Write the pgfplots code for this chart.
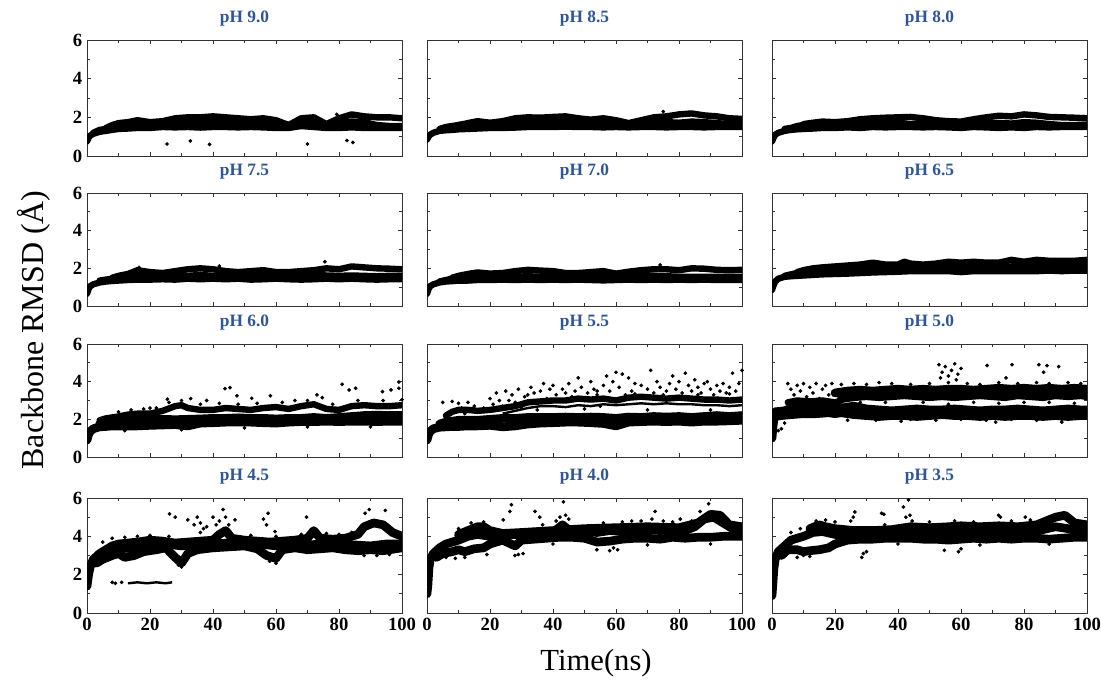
\documentclass[border=0pt]{standalone}
\usepackage{fontspec}
\setmainfont{Liberation Serif}
\usepackage{pgfplots}
\pgfplotsset{compat=1.18}
\definecolor{titleblue}{HTML}{2F5597}

\pgfplotsset{
  panel/.style={
    scale only axis, width=236.25pt, anchor=south west,
    xmin=0, xmax=100, ymin=0, ymax=6,
    xtick={0,20,...,100}, minor xtick={10,30,...,90},
    ytick={0,2,4,6}, minor ytick={1,3,5},
    tick align=inside, major tick length=3pt, minor tick length=2pt,
    axis line style={black!80, line width=0.6pt},
    tick style={black!80, line width=0.5pt},
    tick label style={font=\fontsize{14}{14}\selectfont\bfseries},
    /pgf/number format/assume math mode=true,
    title style={font=\fontsize{13}{13}\selectfont\bfseries, text=titleblue, at={(0.5,1)}, anchor=south, yshift=0.5pt},
  },
  band/.style={black, line width=4.8pt, line join=round, line cap=round},
  wband/.style={black, line width=6.5pt, line join=round, line cap=round},
  thin/.style={black, line width=1.8pt, line join=round},
  dots/.style={only marks, mark=*, mark size=1.2pt, black},
}

\begin{document}
\begin{tikzpicture}
\useasboundingbox (0,0) rectangle (826.5pt,513pt);

% ---------------- row 1 ----------------
\begin{axis}[panel, at={(65.25pt,396pt)}, height=87pt, title={pH 9.0}, xticklabel=\empty]
\addplot[band] coordinates {(0,0.75) (0.5,0.95) (1,1.05) (2,1.15) (4,1.25) (6,1.3) (8,1.35) (10,1.4) (13,1.42) (16,1.45) (20,1.45) (24,1.5) (28,1.48) (32,1.5) (36,1.47) (40,1.5) (44,1.5) (48,1.48) (52,1.5) (56,1.48) (60,1.45) (64,1.45) (68,1.55) (72,1.5) (76,1.45) (80,1.45) (84,1.48) (88,1.45) (92,1.45) (96,1.45) (100,1.45)};
\addplot[band] coordinates {(2,1.2) (4,1.35) (6,1.4) (8,1.5) (10,1.55) (13,1.6) (16,1.65) (20,1.7) (24,1.65) (28,1.7) (32,1.72) (36,1.7) (40,1.75) (44,1.72) (48,1.78) (52,1.8) (56,1.75) (60,1.72) (64,1.6) (68,1.7) (72,1.75) (76,1.55) (80,1.7) (84,1.78) (88,1.75) (92,1.6) (96,1.55) (100,1.55)};
\addplot[band] coordinates {(6,1.45) (8,1.6) (10,1.7) (13,1.75) (16,1.85) (20,1.75) (24,1.8) (28,1.95) (32,2.0) (36,2.0) (40,2.05) (44,2.0) (48,1.95) (52,1.9) (56,1.95) (60,1.85) (64,1.6) (68,1.95) (72,2.0) (76,1.65) (80,1.95) (84,2.15) (88,2.05) (92,2.0) (96,2.0) (100,1.95)};
\addplot[dots] coordinates {(25.4,0.62) (32.8,0.78) (38.9,0.6) (70,0.62) (82.5,0.8) (84.4,0.7) (79.3,2.15)};
\end{axis}

\begin{axis}[panel, at={(320.25pt,396pt)}, height=87pt, title={pH 8.5}, xticklabel=\empty, yticklabel=\empty]
\addplot[band] coordinates {(0,0.85) (0.5,1.0) (1,1.1) (2,1.2) (4,1.3) (6,1.33) (8,1.35) (10,1.38) (13,1.4) (16,1.42) (20,1.45) (24,1.45) (28,1.47) (32,1.5) (36,1.5) (40,1.5) (44,1.52) (48,1.5) (52,1.5) (56,1.48) (60,1.5) (64,1.48) (68,1.5) (72,1.5) (76,1.48) (80,1.5) (84,1.5) (88,1.48) (92,1.5) (96,1.5) (100,1.5)};
\addplot[band] coordinates {(4,1.4) (6,1.5) (8,1.55) (10,1.6) (13,1.65) (16,1.7) (20,1.65) (24,1.7) (28,1.72) (32,1.7) (36,1.75) (40,1.72) (44,1.75) (48,1.7) (52,1.68) (56,1.65) (60,1.6) (64,1.65) (68,1.7) (72,1.72) (76,1.75) (80,1.72) (84,1.78) (88,1.75) (92,1.7) (96,1.65) (100,1.62)};
\addplot[band] coordinates {(10,1.6) (13,1.7) (16,1.8) (20,1.72) (24,1.8) (28,1.95) (32,2.0) (36,1.98) (40,2.02) (44,2.05) (48,1.95) (52,1.88) (56,1.95) (60,1.85) (64,1.7) (68,1.85) (72,2.0) (76,2.05) (80,2.15) (84,2.2) (88,2.1) (92,2.05) (96,1.95) (100,1.92)};
\addplot[dots] coordinates {(75,2.3)};
\end{axis}

\begin{axis}[panel, at={(579pt,396pt)}, height=87pt, title={pH 8.0}, xticklabel=\empty, yticklabel=\empty]
\addplot[band] coordinates {(0,0.75) (0.5,0.95) (1,1.1) (2,1.2) (4,1.3) (6,1.35) (8,1.38) (10,1.4) (13,1.42) (16,1.45) (20,1.45) (24,1.48) (28,1.45) (32,1.5) (36,1.48) (40,1.5) (44,1.5) (48,1.48) (52,1.5) (56,1.48) (60,1.45) (64,1.5) (68,1.48) (72,1.45) (76,1.48) (80,1.45) (84,1.5) (88,1.48) (92,1.5) (96,1.5) (100,1.5)};
\addplot[band] coordinates {(4,1.4) (6,1.45) (8,1.55) (10,1.6) (13,1.65) (16,1.7) (20,1.7) (24,1.72) (28,1.75) (32,1.72) (36,1.75) (40,1.72) (44,1.65) (48,1.7) (52,1.72) (56,1.68) (60,1.65) (64,1.7) (68,1.72) (72,1.7) (76,1.68) (80,1.75) (84,1.72) (88,1.65) (92,1.6) (96,1.6) (100,1.62)};
\addplot[band] coordinates {(10,1.65) (13,1.72) (16,1.78) (20,1.75) (24,1.8) (28,1.9) (32,1.95) (36,1.98) (40,2.0) (44,2.02) (48,1.95) (52,1.85) (56,1.8) (60,1.78) (64,1.9) (68,2.0) (72,2.08) (76,2.05) (80,2.15) (84,2.1) (88,2.02) (92,2.0) (96,1.98) (100,1.95)};
\end{axis}

% ---------------- row 2 ----------------
\begin{axis}[panel, at={(65.25pt,283.5pt)}, height=84.75pt, title={pH 7.5}, xticklabel=\empty]
\addplot[band] coordinates {(0,0.65) (0.5,0.9) (1,1.05) (2,1.15) (4,1.25) (6,1.3) (8,1.33) (10,1.35) (13,1.38) (16,1.4) (20,1.4) (24,1.42) (28,1.4) (32,1.45) (36,1.42) (40,1.45) (44,1.42) (48,1.45) (52,1.4) (56,1.42) (60,1.45) (64,1.42) (68,1.4) (72,1.42) (76,1.45) (80,1.42) (84,1.45) (88,1.42) (92,1.4) (96,1.42) (100,1.42)};
\addplot[band] coordinates {(4,1.35) (6,1.4) (8,1.45) (10,1.5) (13,1.55) (16,1.6) (20,1.6) (24,1.58) (28,1.62) (32,1.6) (36,1.65) (40,1.6) (44,1.58) (48,1.6) (52,1.55) (56,1.6) (60,1.58) (64,1.62) (68,1.6) (72,1.65) (76,1.62) (80,1.6) (84,1.62) (88,1.6) (92,1.58) (96,1.6) (100,1.6)};
\addplot[band] coordinates {(8,1.5) (10,1.6) (13,1.7) (16,1.9) (20,1.8) (24,1.75) (28,1.85) (32,1.95) (36,2.0) (40,1.95) (44,1.85) (48,1.8) (52,1.85) (56,1.9) (60,1.8) (64,1.8) (68,1.85) (72,1.9) (76,2.0) (80,1.95) (84,2.1) (88,2.05) (92,2.0) (96,1.98) (100,1.95)};
\addplot[dots] coordinates {(75.5,2.35) (42,2.12) (16.5,2.05)};
\end{axis}

\begin{axis}[panel, at={(320.25pt,283.5pt)}, height=84.75pt, title={pH 7.0}, xticklabel=\empty, yticklabel=\empty]
\addplot[band] coordinates {(0,0.65) (0.5,0.9) (1,1.05) (2,1.15) (4,1.25) (6,1.3) (8,1.32) (10,1.35) (13,1.35) (16,1.38) (20,1.38) (24,1.4) (28,1.38) (32,1.4) (36,1.38) (40,1.4) (44,1.38) (48,1.4) (52,1.38) (56,1.36) (60,1.38) (64,1.4) (68,1.38) (72,1.4) (76,1.38) (80,1.4) (84,1.38) (88,1.4) (92,1.38) (96,1.38) (100,1.38)};
\addplot[band] coordinates {(4,1.3) (6,1.38) (8,1.45) (10,1.5) (13,1.55) (16,1.55) (20,1.55) (24,1.52) (28,1.55) (32,1.58) (36,1.55) (40,1.58) (44,1.55) (48,1.55) (52,1.58) (56,1.55) (60,1.52) (64,1.55) (68,1.58) (72,1.6) (76,1.58) (80,1.55) (84,1.55) (88,1.55) (92,1.55) (96,1.55) (100,1.55)};
\addplot[band] coordinates {(8,1.5) (10,1.6) (13,1.7) (16,1.78) (20,1.72) (24,1.75) (28,1.85) (32,1.92) (36,1.88) (40,1.85) (44,1.75) (48,1.75) (52,1.8) (56,1.85) (60,1.72) (64,1.82) (68,1.9) (72,1.95) (76,1.95) (80,1.9) (84,2.0) (88,1.98) (92,1.92) (96,1.9) (100,1.92)};
\addplot[dots] coordinates {(74,2.18)};
\end{axis}

\begin{axis}[panel, at={(579pt,283.5pt)}, height=84.75pt, title={pH 6.5}, xticklabel=\empty, yticklabel=\empty]
\addplot[band] coordinates {(0,0.85) (0.5,1.1) (1,1.3) (2,1.45) (4,1.55) (6,1.58) (8,1.6) (10,1.62) (13,1.65) (16,1.68) (20,1.7) (24,1.72) (28,1.75) (32,1.78) (36,1.8) (40,1.82) (44,1.85) (48,1.85) (52,1.85) (56,1.85) (60,1.8) (64,1.85) (68,1.85) (72,1.85) (76,1.85) (80,1.85) (84,1.85) (88,1.88) (92,1.85) (96,1.88) (100,1.88)};
\addplot[band] coordinates {(4,1.6) (6,1.68) (8,1.75) (10,1.8) (13,1.85) (16,1.9) (20,1.92) (24,1.95) (28,1.98) (32,2.0) (36,2.02) (40,2.05) (44,2.05) (48,2.02) (52,2.05) (56,2.08) (60,2.05) (64,2.08) (68,2.1) (72,2.08) (76,2.1) (80,2.1) (84,2.1) (88,2.1) (92,2.12) (96,2.1) (100,2.1)};
\addplot[band] coordinates {(8,1.8) (10,1.9) (13,2.0) (16,2.05) (20,2.1) (24,2.15) (28,2.2) (32,2.3) (36,2.2) (40,2.2) (42,2.35) (44,2.25) (48,2.2) (52,2.25) (56,2.35) (60,2.3) (64,2.35) (68,2.3) (72,2.3) (76,2.45) (80,2.35) (84,2.45) (88,2.4) (92,2.4) (96,2.4) (100,2.45)};
\end{axis}

% ---------------- row 3 ----------------
\begin{axis}[panel, at={(65.25pt,170.25pt)}, height=84.75pt, title={pH 6.0}, xticklabel=\empty]
\addplot[wband] coordinates {(0,0.9) (0.5,1.2) (1,1.35) (2,1.5) (4,1.6) (6,1.62) (8,1.65) (10,1.65) (13,1.65) (16,1.65) (20,1.68) (24,1.7) (28,1.72) (32,1.65) (36,1.8) (40,1.82) (44,1.85) (48,1.85) (52,1.85) (56,1.82) (60,1.8) (64,1.85) (68,1.88) (72,1.88) (76,1.9) (80,1.88) (84,1.9) (88,1.9) (92,1.88) (96,1.9) (100,1.9)};
\addplot[wband] coordinates {(4,1.75) (6,1.85) (8,1.9) (10,1.95) (13,1.95) (16,2.0) (20,2.0) (24,2.0) (28,1.98) (32,2.0) (36,2.02) (40,2.05) (44,2.05) (48,2.08) (52,2.05) (56,2.05) (60,2.02) (64,2.05) (68,2.05) (72,2.1) (76,2.05) (80,2.1) (84,2.15) (88,2.2) (92,2.22) (96,2.2) (100,2.2)};
\addplot[band] coordinates {(4,1.95) (6,2.05) (8,2.1) (10,2.15) (13,2.25) (16,2.3) (20,2.3) (24,2.45) (28,2.7) (30,2.75) (32,2.6) (34,2.55) (36,2.5) (40,2.5) (44,2.6) (48,2.55) (52,2.5) (56,2.6) (60,2.65) (64,2.55) (68,2.7) (72,2.8) (76,2.55) (80,2.5) (84,2.7) (88,2.75) (92,2.7) (96,2.7) (100,2.75)};
\addplot[dots] coordinates {(25.5,3.07) (32.9,3.1) (43.8,3.63) (45.4,3.68) (47.6,3.25) (52.3,3.12) (58.2,3.25) (74.7,3.15) (81,3.86) (83.2,3.56) (85.3,3.65) (93.8,3.47) (96.5,3.56) (99,3.98) (99,3.65) (20,2.6) (38,3.0) (66,3.0) (73,3.3)
 (10,2.4) (14,2.5) (18,2.55) (22,2.6) (26,2.9) (30,3.0) (36,2.8) (42,2.85) (48,2.8) (54,2.85) (62,2.9) (70,3.0) (78,2.8) (86,3.0) (94,3.0) (100,3.05) (12,1.4) (30,1.45) (50,1.55) (70,1.6) (90,1.6)};
\end{axis}

\begin{axis}[panel, at={(320.25pt,170.25pt)}, height=84.75pt, title={pH 5.5}, xticklabel=\empty, yticklabel=\empty]
\addplot[wband] coordinates {(0,0.9) (0.5,1.2) (1,1.35) (2,1.5) (4,1.58) (6,1.6) (8,1.62) (10,1.62) (13,1.65) (16,1.65) (20,1.68) (24,1.6) (28,1.65) (32,1.75) (36,1.8) (40,1.82) (44,1.85) (48,1.85) (52,1.82) (56,1.78) (60,1.65) (64,1.85) (68,1.88) (72,1.9) (76,1.88) (80,1.9) (84,1.85) (88,1.9) (92,1.9) (96,1.92) (100,1.95)};
\addplot[wband] coordinates {(4,1.75) (6,1.85) (8,1.9) (10,1.95) (13,1.95) (16,1.95) (20,2.0) (24,2.05) (28,2.05) (32,2.1) (36,2.1) (40,2.1) (44,2.12) (48,2.1) (52,2.12) (56,2.1) (60,2.05) (64,2.12) (68,2.1) (72,2.15) (76,2.12) (80,2.15) (84,2.1) (88,2.15) (92,2.2) (96,2.15) (100,2.2)};
\addplot[band] coordinates {(6,2.2) (8,2.4) (10,2.5) (13,2.5) (16,2.45) (20,2.5) (24,2.6) (28,2.7) (32,2.9) (36,2.95) (40,3.0) (44,3.0) (48,3.1) (52,3.05) (56,3.1) (60,3.0) (64,3.15) (68,3.2) (72,3.15) (76,3.1) (80,3.15) (84,3.1) (88,3.05) (92,3.05) (96,3.0) (100,3.05)};
\addplot[thin] coordinates {(24,2.3) (28,2.45) (32,2.6) (36,2.7) (40,2.7) (44,2.65) (48,2.75) (52,2.7) (56,2.8) (60,2.75) (64,2.8) (68,2.85) (72,2.8) (76,2.85) (80,2.8) (84,2.8) (88,2.75) (92,2.75) (96,2.7) (100,2.75)};
\addplot[dots] coordinates {(7,2.3) (9,2.5) (11,2.6) (12,2.3) (14,2.55) (16,2.45) (18,2.6) (19,2.5) (5,2.9) (8,2.95) (10,2.85) (13,2.9) (15,2.7)
 (20,3.1) (21,2.8) (22,3.4) (23,3.0) (24,2.7) (25,3.5) (26,3.0) (27,3.3) (28,2.9) (29,3.6) (30,2.6) (31,3.2) (33,3.7) (34,3.4) (35,2.9) (36,3.5) (37,3.9) (38,3.1) (39,3.6)
 (40,3.8) (41,3.3) (42,3.0) (43,3.6) (45,3.9) (46,3.2) (47,3.5) (48,4.2) (49,3.7) (50,3.0) (51,3.4) (52,4.0) (53,3.6) (54,3.3) (55,2.7) (56,3.8) (57,4.3) (58,3.5) (59,4.0) (60,4.5) (61,3.7) (62,4.4) (63,3.3)
 (64,4.2) (65,3.5) (66,3.9) (67,3.2) (68,3.8) (70,3.6) (71,4.6) (72,3.4) (73,4.0) (74,3.7) (76,3.5) (77,3.9) (78,4.3) (79,3.6) (80,4.0) (81,3.4) (82,4.45) (83,3.8) (84,3.5) (85,4.1) (86,3.7) (87,3.4) (88,3.9) (89,4.0) (90,3.6) (91,3.3) (92,3.8) (93,3.5) (94,3.9) (95,3.4) (96,3.7) (97,4.45) (98,3.5) (99,3.9) (100,4.6)
 (32,3.3) (44,3.4) (54,3.5) (66,3.35) (75,3.3) (86,3.3) (96,3.35) (35,2.5) (50,2.55) (70,2.5) (90,2.5)};
\end{axis}

\begin{axis}[panel, at={(579pt,170.25pt)}, height=84.75pt, title={pH 5.0}, xticklabel=\empty, yticklabel=\empty]
\addplot[wband] coordinates {(0,1.0) (0.3,1.6) (0.6,2.0) (1,2.15) (3,2.2) (6,2.25) (10,2.3) (14,2.3) (18,2.35) (20,2.3) (22,2.35) (26,2.25) (30,2.2) (34,2.15) (38,2.2) (42,2.2) (46,2.15) (50,2.2) (54,2.25) (58,2.2) (62,2.2) (66,2.15) (70,2.2) (74,2.15) (78,2.2) (82,2.2) (86,2.15) (90,2.2) (94,2.15) (98,2.2) (100,2.2)};
\addplot[wband] coordinates {(1,2.4) (4,2.45) (6,2.6) (8,2.7) (10,2.65) (14,2.7) (18,2.75) (20,2.6) (22,2.6) (26,2.7) (30,2.55) (34,2.5) (38,2.45) (42,2.5) (46,2.55) (50,2.5) (54,2.5) (58,2.55) (62,2.5) (66,2.45) (70,2.5) (74,2.5) (78,2.55) (82,2.5) (86,2.45) (90,2.5) (94,2.55) (98,2.5) (100,2.5)};
\addplot[band] coordinates {(5,2.9) (8,3.0) (12,2.95) (16,3.0) (20,2.9) (22,3.0)};
\addplot[wband] coordinates {(22,3.1) (26,3.2) (30,3.25) (34,3.2) (38,3.25) (42,3.3) (46,3.25) (50,3.2) (54,3.25) (58,3.2) (62,3.25) (66,3.3) (70,3.25) (74,3.2) (78,3.3) (82,3.25) (86,3.2) (90,3.3) (94,3.25) (98,3.3) (100,3.25)};
\addplot[wband] coordinates {(20,3.4) (24,3.5) (28,3.55) (32,3.5) (36,3.55) (40,3.6) (44,3.55) (48,3.6) (52,3.55) (56,3.6) (60,3.6) (64,3.55) (68,3.6) (72,3.65) (76,3.6) (80,3.65) (84,3.6) (88,3.65) (92,3.6) (96,3.65) (100,3.6)};
\addplot[dots] coordinates {(5,3.9) (6,3.6) (7,3.3) (8,3.8) (9,3.5) (10,3.9) (11,3.2) (12,3.7) (13,3.4) (14,3.9) (15,3.1) (16,3.6) (17,3.8) (18,3.3) (19,3.9) (20,3.5) (4,1.8) (3,1.5) (2,1.4)
 (28,2.9) (36,2.9) (44,2.0) (48,2.9) (52,1.95) (56,2.8) (60,2.0) (64,2.9) (68,1.95) (72,2.85) (76,2.0) (80,2.9) (84,1.95) (88,2.9) (92,2.0) (96,2.85) (24,1.95) (33,1.95) (41,1.9) (71,1.85) (92,1.85)
 (22,3.85) (26,3.9) (30,3.85) (34,3.95) (38,3.9) (44,3.85) (50,3.9) (56,3.95) (62,3.9) (66,3.85) (72,3.95) (78,3.9) (84,3.95) (88,3.9) (94,3.95) (98,3.9)
 (53,4.9) (54,4.5) (55,4.8) (56,4.3) (57,4.6) (58,4.95) (59,4.4) (60,4.7) (58.5,4.1) (68.3,4.86) (76.2,4.9) (84.7,4.9) (86.2,4.5) (87.3,4.85) (91,4.8) (74.3,4.2) (53.5,4.2)};
\end{axis}

% ---------------- row 4 ----------------
\begin{axis}[panel, at={(65.25pt,53.25pt)}, height=86.25pt, title={pH 4.5}]
\addplot[wband] coordinates {(0,1.4) (0.5,2.0) (1,2.4) (2,2.8) (4,3.1) (6,3.3) (8,3.5) (10,3.6) (13,3.65) (16,3.7) (20,3.8) (24,3.75) (28,3.65) (32,3.7) (36,3.75) (40,3.8) (42,4.1) (44,4.3) (46,3.9) (50,3.8) (54,3.75) (58,3.7) (62,3.75) (66,3.8) (70,3.9) (72,4.3) (74,3.9) (78,3.85) (82,3.9) (86,4.1) (88,4.5) (91,4.7) (94,4.6) (97,4.2) (100,4.0)};
\addplot[wband] coordinates {(3,2.6) (5,2.8) (8,3.0) (10,3.1) (12,2.9) (15,3.0) (18,3.2) (22,3.3) (25,3.4) (28,2.9) (30,2.6) (32,3.1) (35,3.3) (40,3.4) (45,3.45) (50,3.5) (54,3.35) (57,3.0) (60,2.85) (62,3.3) (66,3.4) (70,3.3) (74,3.35) (78,3.4) (82,3.3) (86,3.25) (90,3.3) (94,3.25) (98,3.35) (100,3.4)};
\addplot[wband] coordinates {(6,3.1) (10,3.35) (15,3.4) (20,3.55) (25,3.6) (30,3.5) (35,3.55) (40,3.6) (45,3.65) (50,3.55) (55,3.6) (60,3.5) (65,3.6) (70,3.55) (75,3.6) (80,3.6) (85,3.55) (90,3.5) (95,3.6) (100,3.6)};
\addplot[thin] coordinates {(13,1.55) (16,1.6) (19,1.55) (22,1.6) (25,1.55) (27,1.6)};
\addplot[dots] coordinates {(8,1.6) (9,1.55) (11,1.6) (26.2,5.17) (28,5.0) (32,4.86) (34,4.6) (35,5.0) (36,4.7) (37,4.4) (40,5.0) (41,4.6) (43.2,5.4) (44,5.0) (47,4.86) (56,4.9) (57.5,5.2) (57,4.6) (59.7,4.25) (69.7,5.0) (88.3,5.2) (89.6,5.4) (94.7,5.35) (36,4.2) (38,4.5) (42,4.8) (45,4.6)
 (5,3.7) (8,3.9) (12,3.95) (16,4.0) (20,4.05) (26,4.0) (30,2.4) (29,2.5) (52,4.05) (60,4.0) (68,4.1) (76,4.15) (80,4.1) (84,4.2) (88,3.0) (92,3.0) (96,3.05) (58,2.7) (60,2.6)};
\end{axis}

\begin{axis}[panel, at={(320.25pt,53.25pt)}, height=86.25pt, title={pH 4.0}, yticklabel=\empty]
\addplot[wband] coordinates {(0,1.0) (0.3,1.5) (0.6,2.3) (1,2.8) (2,3.1) (4,3.4) (6,3.6) (8,3.7) (10,3.8) (13,4.0) (16,4.1) (20,4.0) (24,4.05) (28,4.1) (32,4.05) (36,4.1) (40,4.2) (43,4.6) (46,4.2) (50,4.25) (54,4.2) (58,4.3) (62,4.25) (66,4.3) (70,4.35) (74,4.3) (78,4.35) (82,4.3) (85,4.5) (88,4.9) (91,5.0) (94,4.7) (97,4.4) (100,4.35)};
\addplot[wband] coordinates {(3,2.9) (5,3.1) (8,3.2) (10,3.3) (12,3.2) (15,3.35) (18,3.4) (20,3.6) (24,3.8) (28,3.5) (30,3.8) (34,3.85) (38,3.9) (42,3.95) (46,3.95) (50,3.9) (54,3.7) (58,3.75) (62,3.85) (66,3.9) (70,3.9) (74,3.85) (78,3.95) (82,3.9) (86,3.95) (90,3.95) (94,4.0) (98,4.0) (100,4.0)};
\addplot[wband] coordinates {(10,4.1) (13,4.3) (16,4.5) (18,4.5) (20,4.3) (24,4.15) (30,4.2) (40,4.3) (50,4.4) (60,4.45) (70,4.5) (80,4.45) (86,4.7) (90,5.15) (93,5.1) (96,4.6) (100,4.5)};
\addplot[dots] coordinates {(26.8,5.65) (26.3,5.3) (24.2,4.86) (34.3,5.3) (35.8,5.0) (36.7,4.6) (43.3,5.8) (42.2,5.0) (41,4.8) (44,5.1) (72.4,5.3) (71.4,4.9) (89.4,5.7) (86.7,5.3) (80.4,4.9) (53.9,3.3) (59.2,3.4) (27.9,3.0) (30.5,3.1) (58,3.25) (29,3.05) (60.5,3.3) (45,4.9) (75,4.8) (65,4.8)
 (6,2.9) (9,2.85) (12,2.9) (19,3.05) (10,4.4) (14,4.7) (18,4.75) (56,4.7) (62,4.75) (68,4.8) (78,4.75) (84,4.8) (40,3.6) (70,3.55) (90,3.6)};
\end{axis}

\begin{axis}[panel, at={(579pt,53.25pt)}, height=86.25pt, title={pH 3.5}, yticklabel=\empty]
\addplot[wband] coordinates {(0,0.9) (0.3,1.6) (0.6,2.3) (1,2.8) (2,3.2) (4,3.5) (6,3.8) (8,3.9) (10,4.0) (13,4.2) (16,4.25) (20,4.1) (24,4.05) (28,4.0) (32,4.05) (36,4.0) (40,4.05) (43,4.3) (46,4.1) (50,4.2) (54,4.15) (58,4.2) (62,4.15) (66,4.2) (70,4.25) (74,4.2) (78,4.25) (82,4.2) (86,4.35) (90,4.5) (94,4.4) (97,4.3) (100,4.3)};
\addplot[wband] coordinates {(3,3.0) (5,3.3) (8,3.3) (10,3.2) (12,3.25) (15,3.3) (18,3.4) (20,3.6) (24,3.8) (28,3.85) (32,3.85) (36,3.9) (40,3.9) (44,3.9) (48,3.85) (52,3.85) (56,3.8) (60,3.85) (64,3.9) (68,3.85) (72,3.9) (76,3.85) (80,3.9) (84,3.9) (88,3.85) (92,3.9) (96,3.95) (100,3.95)};
\addplot[wband] coordinates {(12,4.4) (15,4.6) (17,4.5) (20,4.4) (26,4.3) (32,4.3) (38,4.35) (44,4.5) (50,4.45) (56,4.5) (60,4.55) (66,4.5) (72,4.55) (78,4.5) (84,4.6) (87,4.8) (90,5.0) (93,5.1) (96,4.7) (100,4.6)};
\addplot[dots] coordinates {(26.3,5.27) (25.8,5.0) (25,4.8) (34.8,5.2) (35.5,5.15) (35.8,4.6) (41.7,5.53) (43.3,5.9) (43.8,5.1) (42.5,5.0) (44.5,4.8) (71.9,5.1) (72.5,5.0) (80.4,5.0) (29,3.1) (30,3.2) (28.5,2.9) (54.7,3.27) (59.2,3.2) (60,3.35) (10,3.0) (12,2.95) (8,2.9)
 (6,4.2) (9,4.4) (14,4.8) (17,4.85) (20,4.75) (50,4.75) (58,4.8) (64,4.75) (76,4.8) (82,4.85) (40,3.6) (66,3.55) (88,3.6)};
\end{axis}

\node[rotate=90, font=\fontsize{24}{24}\selectfont] at (25pt,265.5pt) {Backbone RMSD (Å)};
\node[font=\fontsize{23}{23}\selectfont] at (447pt,15.75pt) {Time(ns)};
\end{tikzpicture}
\end{document}
